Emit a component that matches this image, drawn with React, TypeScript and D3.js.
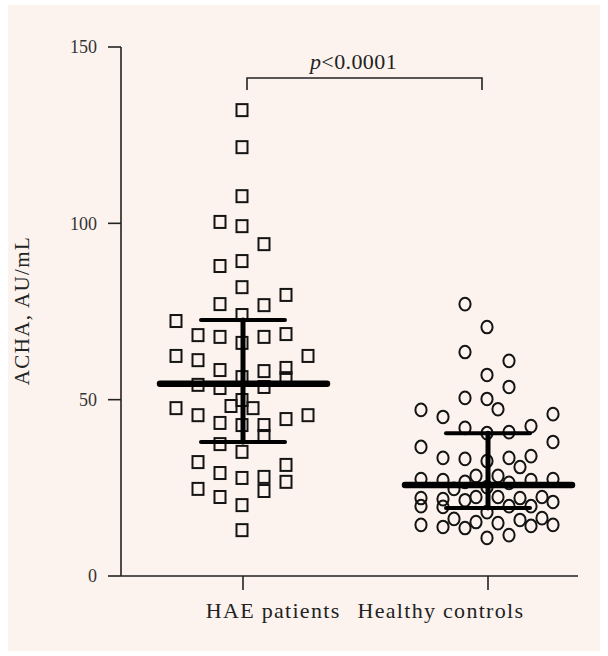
import React from 'react';
import * as d3 from 'd3';

// groups on the x axis
const groups = ['HAE patients', 'Healthy controls'];
const yTicks = [0, 50, 100, 150];

// HAE patients: ACHA values and swarm slot (column index)
const haeValues = [
  132.1, 121.6, 107.7, 100.4, 99.2, 94.1, 89.3, 87.9, 81.9, 79.7,
  77.1, 76.8, 74.0, 72.3, 68.3, 67.8, 67.8, 68.6, 66.1, 62.4,
  61.2, 62.4, 58.4, 58.1, 59.0, 56.4, 56.1, 54.2, 53.3, 53.6,
  49.9, 48.2, 47.6, 47.6, 45.6, 45.6, 44.5, 43.4, 42.8, 42.8,
  39.7, 37.4, 35.2, 32.3, 31.5, 29.2, 27.8, 28.1, 26.7, 24.7,
  24.1, 22.4, 20.1, 13.0,
];
const haeSlots = [
  0, 0, 0, -2, 0, 2, 0, -2, 0, 4,
  -2, 2, 0, -6, -4, -2, 2, 4, 0, -6,
  -4, 6, -2, 2, 4, 0, 4, -4, -2, 2,
  0, -1, 1, -6, -4, 6, 4, -2, 0, 2,
  2, -2, 0, -4, 4, -2, 0, 2, 4, -4,
  2, -2, 0, 0,
];

// Healthy controls
const ctrlValues = [
  77.1, 70.6, 63.5, 61.0, 57.0, 53.6, 50.5, 50.2, 47.3, 47.1,
  45.9, 45.1, 42.0, 40.5, 40.8, 42.5, 36.6, 38.0, 33.5, 33.2,
  32.6, 33.5, 30.9, 34.0, 27.5, 27.2, 26.7, 28.4, 28.4, 26.4,
  27.2, 27.5, 24.7, 25.2, 22.1, 19.8, 21.8, 19.6, 21.5, 22.4,
  22.4, 19.8, 22.1, 19.8, 22.4, 21.0, 18.1, 14.5, 13.9, 16.2,
  13.6, 15.3, 15.0, 15.9, 14.2, 16.4, 14.5, 10.8, 11.6,
];
const ctrlSlots = [
  -2, 0, -2, 2, 0, 2, -2, 0, 1, -6,
  6, -4, -2, 0, 2, 4, -6, 6, -4, -2,
  0, 2, 3, 4, -6, -4, -2, -1, 1, 2,
  4, 6, -3, 0, -6, -6, -4, -4, -2, -1,
  1, 2, 3, 4, 5, 6, 0, -6, -4, -3,
  -2, -1, 1, 3, 4, 5, 6, 0, 2,
];

// median and interquartile range per group
const medians = [54.5, 25.8];
const upperQ = [72.6, 40.5];
const lowerQ = [38.0, 19.3];

const pLabel = 'p';
const pText = '<0.0001';

const W = 608;
const H = 656;
const ink = '#141414';
const serif = '"Liberation Serif", "DejaVu Serif", serif';

export default function App() {
  const y = d3.scaleLinear().domain([0, 150]).range([576, 47]);
  const x = d3.scalePoint<string>().domain(groups).range([243, 488]);
  const slot = d3.scaleLinear().domain([-6, 6]).range([-66, 66]);

  const axisLeft = 121;
  const axisRight = 578;
  const base = y(0);

  const xH = x(groups[0]) as number;
  const xC = x(groups[1]) as number;
  const mid = (xH + xC) / 2;

  return (
    <svg width={W} height={H} style={{ position: 'absolute', left: 0, top: 0, display: 'block' }}>
      <rect x={0} y={0} width={W} height={H} fill="#ffffff" />
      <rect x={8} y={5} width={592} height={646} fill="#fcf3ee" />

      {/* points */}
      <g fill="none" stroke={ink} strokeWidth={2}>
        {haeValues.map((v, i) => (
          <rect key={'h' + i} x={xH - 1 + slot(haeSlots[i]) - 5.5} y={y(v) - 6} width={11} height={12} />
        ))}
        {ctrlValues.map((v, i) => (
          <ellipse key={'c' + i} cx={xC - 1 + slot(ctrlSlots[i])} cy={y(v)} rx={5.6} ry={6.3} />
        ))}
      </g>

      {/* median + IQR */}
      <g stroke="#000" strokeLinecap="round">
        {groups.map((g, i) => {
          const cx = x(g) as number;
          return (
            <g key={g}>
              <line x1={cx} x2={cx} y1={y(upperQ[i])} y2={y(lowerQ[i])} strokeWidth={5} />
              <line x1={cx - 42} x2={cx + 42} y1={y(upperQ[i])} y2={y(upperQ[i])} strokeWidth={4} />
              <line x1={cx - 42} x2={cx + 42} y1={y(lowerQ[i])} y2={y(lowerQ[i])} strokeWidth={4} />
              <line x1={cx - 83} x2={cx + 84} y1={y(medians[i])} y2={y(medians[i])} strokeWidth={6.5} />
            </g>
          );
        })}
      </g>

      {/* axes */}
      <g stroke="#222" strokeWidth={1.6} fill="none">
        <line x1={axisLeft} x2={axisLeft} y1={y(150)} y2={base} />
        {yTicks.map((t) => (
          <line key={t} x1={axisLeft - 13} x2={axisLeft} y1={y(t)} y2={y(t)} />
        ))}
        <line x1={axisLeft} x2={axisRight} y1={base} y2={base} />
        {groups.map((g) => (
          <line key={g} x1={x(g) as number} x2={x(g) as number} y1={base} y2={base + 14} />
        ))}
      </g>
      <g fontFamily={serif} fontSize={18} fill="#333" textAnchor="end">
        {yTicks.map((t) => (
          <text key={t} x={97} y={y(t)} dy="0.35em">{t}</text>
        ))}
      </g>

      <text
        transform={`translate(29,${(y(0) + y(150)) / 2 - 1}) rotate(-90)`}
        textAnchor="middle"
        fontFamily={serif}
        fontSize={21}
        letterSpacing={1.4}
        fill="#222"
      >
        ACHA, AU/mL
      </text>

      {/* category labels */}
      <g fontFamily={serif} fontSize={22} letterSpacing={1.3} fill="#222">
        <text x={mid - 25} y={618} textAnchor="end">{groups[0]}</text>
        <text x={mid - 8} y={618} textAnchor="start">{groups[1]}</text>
      </g>

      {/* significance bracket */}
      <path
        d={`M${xH + 4},${90} V${78} H${xC - 6} V${90}`}
        fill="none"
        stroke="#222"
        strokeWidth={1.6}
      />
      <text x={mid - 12} y={69} textAnchor="middle" fontFamily={serif} fontSize={22} letterSpacing={0.4} fill="#222">
        <tspan fontStyle="italic">{pLabel}</tspan>
        {pText}
      </text>
    </svg>
  );
}
